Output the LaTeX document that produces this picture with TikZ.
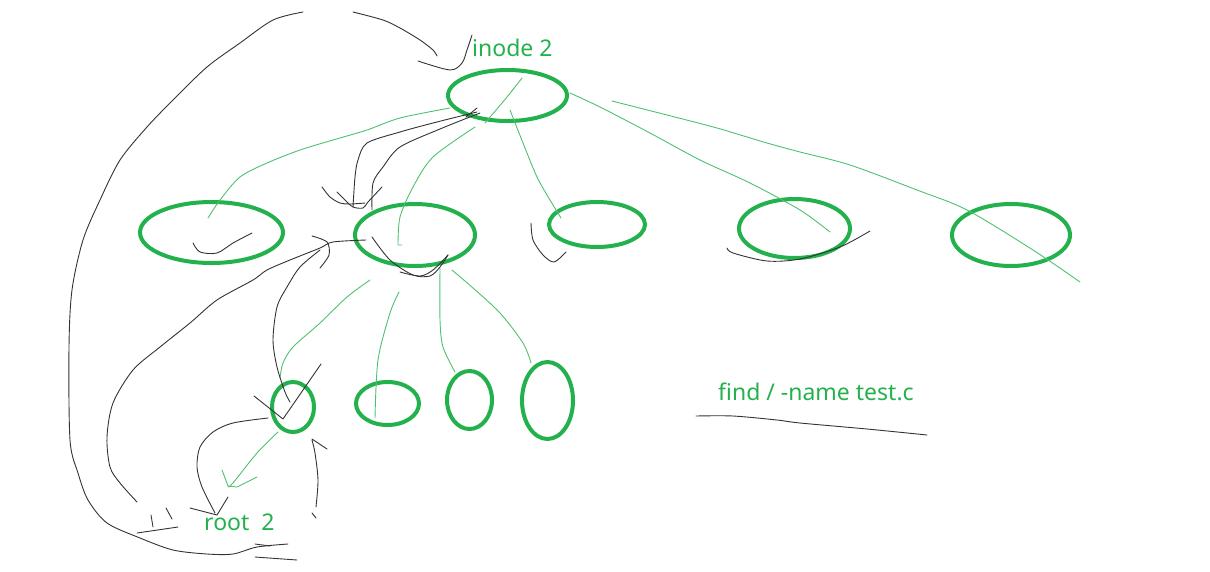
\documentclass[tikz,border=0pt]{standalone}
\usepackage{fontspec}
\setmainfont{Noto Sans}
\usetikzlibrary{shapes.geometric}
\definecolor{inkgreen}{RGB}{34,177,76}
\tikzset{
  blob/.style={ellipse, draw=inkgreen, line width=4pt, inner sep=0pt},
  ink/.style={draw=black!80, line width=0.9pt, line cap=round, line join=round},
  twig/.style={draw=inkgreen!80, line width=0.9pt, line cap=round, line join=round},
  label/.style={text=inkgreen, font=\fontsize{23}{26}\selectfont, inner sep=0pt, anchor=base west}
}
\begin{document}
\begin{tikzpicture}[x=1pt,y=-1pt]
\useasboundingbox (0,0) rectangle (1210,571);
% ellipses
\node[blob, minimum width=119pt, minimum height=51pt] (top) at (507.5,95.5) {};
\node[blob, minimum width=143pt, minimum height=61pt] (a1) at (211.5,232.5) {};
\node[blob, minimum width=120pt, minimum height=62pt] (b1) at (415,235) {};
\node[blob, minimum width=96pt, minimum height=45pt] (c1) at (597,224.5) {};
\node[blob, minimum width=111pt, minimum height=59pt] (d1) at (794.5,228.5) {};
\node[blob, minimum width=118pt, minimum height=62pt] (e1) at (1011,235) {};
\node[blob, minimum width=42pt, minimum height=50pt] (a2) at (293,407) {};
\node[blob, minimum width=63pt, minimum height=43pt] (b2) at (387.5,403.5) {};
\node[blob, minimum width=45pt, minimum height=58pt] (c2) at (469.5,400) {};
\node[blob, minimum width=51pt, minimum height=77pt] (d2) at (547.5,400.5) {};
% texts
\node[label] (t1) at (472,56) {inode 2};
\node[label] (t2) at (204,530) {root\ \ 2};
\node[label] (t3) at (718,400) {find / -name test.c};
% green thin strokes
\draw[twig] plot[smooth] coordinates {(208,218) (220,200) (240,177) (267,163) (300,150) (333,140) (367,130) (400,118) (450,108)};
\draw[twig] plot[smooth] coordinates {(475,127) (433,157) (413,187) (400,217) (398,245)} -- (402,245);
\draw[twig] plot[smooth] coordinates {(522,78) (507,97) (485,123)};
\draw[twig] plot[smooth] coordinates {(510,110) (523,143) (537,177) (550,200) (561,218)};
\draw[twig] plot[smooth] coordinates {(570,93) (600,107) (650,133) (700,160) (750,183) (800,210) (830,232)};
\draw[twig] plot[smooth] coordinates {(612,101) (667,115) (717,128) (767,143) (800,152) (850,165) (917,190) (967,210) (1033,250) (1080,282)};
\draw[twig] plot[smooth] coordinates {(440,268) (440,320) (443,347) (455,372)};
\draw[twig] plot[smooth] coordinates {(452,270) (473,288) (500,313) (523,343) (531,363)};
\draw[twig] plot[smooth] coordinates {(370,280) (347,297) (320,323) (293,347) (283,363) (280,378)};
\draw[twig] plot[smooth] coordinates {(399,292) (390,313) (378,360) (375,418)};
\draw[twig] plot[smooth] coordinates {(278,432) (257,453) (233,483) (228,487)};
\draw[twig] (222,470) -- (228,486) -- (237,487) -- (257,477);
% black strokes
\draw[ink] plot[smooth] coordinates {(303,12) (273,20) (240,43) (207,67) (173,100) (147,127) (120,160) (100,200) (83,240) (72,290) (69,347) (70,440) (78,473) (88,500) (107,523) (140,538) (173,550) (207,554) (233,554) (257,547) (288,544)};
\draw[ink] (255,544) -- (270,546);
\draw[ink] (255,557) -- (297,560);
\draw[ink] plot[smooth] coordinates {(353,12) (383,20) (400,28) (420,40) (433,50) (437,56)};
\draw[ink] plot[smooth] coordinates {(418,61) (450,70) (462,63) (467,50) (472,35)};
\draw[ink] plot[smooth] coordinates {(366,240) (333,242) (320,248) (290,260) (267,270) (253,280) (217,300) (190,323) (160,347) (133,370) (113,403) (107,437) (110,467) (120,483) (137,502)};
\draw[ink] plot[smooth] coordinates {(312,236) (327,242) (329,255) (320,268)};
\draw[ink] plot[smooth] coordinates {(320,250) (300,267) (287,287) (277,307) (273,340) (277,367) (285,392) (290,402)};
\draw[ink] (254,396) -- (283,419) -- (321,364);
\draw[ink] plot[smooth] coordinates {(477,112) (433,123) (400,132) (367,143) (358,160) (355,177) (353,207)};
\draw[ink] plot[smooth] coordinates {(480,113) (440,129) (400,147) (383,167) (373,183) (372,210)};
\draw[ink] (466,117) -- (477,108);
\draw[ink] plot[smooth] coordinates {(322,187) (330,197) (340,203) (350,204) (365,203)};
\draw[ink] plot[smooth] coordinates {(337,192) (345,200) (353,207) (363,208) (368,202) (382,187)};
\draw[ink] plot[smooth] coordinates {(193,243) (200,252) (217,253) (233,243) (252,233)};
\draw[ink] plot[smooth] coordinates {(372,237) (390,260) (413,275) (430,276) (440,267) (448,255)};
\draw[ink] plot[smooth] coordinates {(448,255) (433,270) (420,276) (400,272)};
\draw[ink] plot[smooth] coordinates {(531,223) (533,240) (543,255) (554,262) (566,252)};
\draw[ink] plot[smooth] coordinates {(727,248) (733,253) (767,261) (800,259) (840,247) (870,231)};
\draw[ink] plot[smooth] coordinates {(268,418) (233,423) (213,432) (200,447) (197,467) (202,487) (215,513)};
\draw[ink] (190,508) -- (217,515) -- (228,497);
\draw[ink] plot[smooth] coordinates {(316,507) (318,480) (315,453) (312,440)};
\draw[ink] (312,439) -- (327,449);
\draw[ink] (312,513) -- (316,518);
\draw[ink] (151,515) -- (153,527);
\draw[ink] (166,508) -- (172,519);
\draw[ink] (137,533) -- (178,527);
\draw[ink] plot[smooth] coordinates {(696,416) (733,416) (777,420) (800,423) (867,429) (927,435)};
\end{tikzpicture}
\end{document}
